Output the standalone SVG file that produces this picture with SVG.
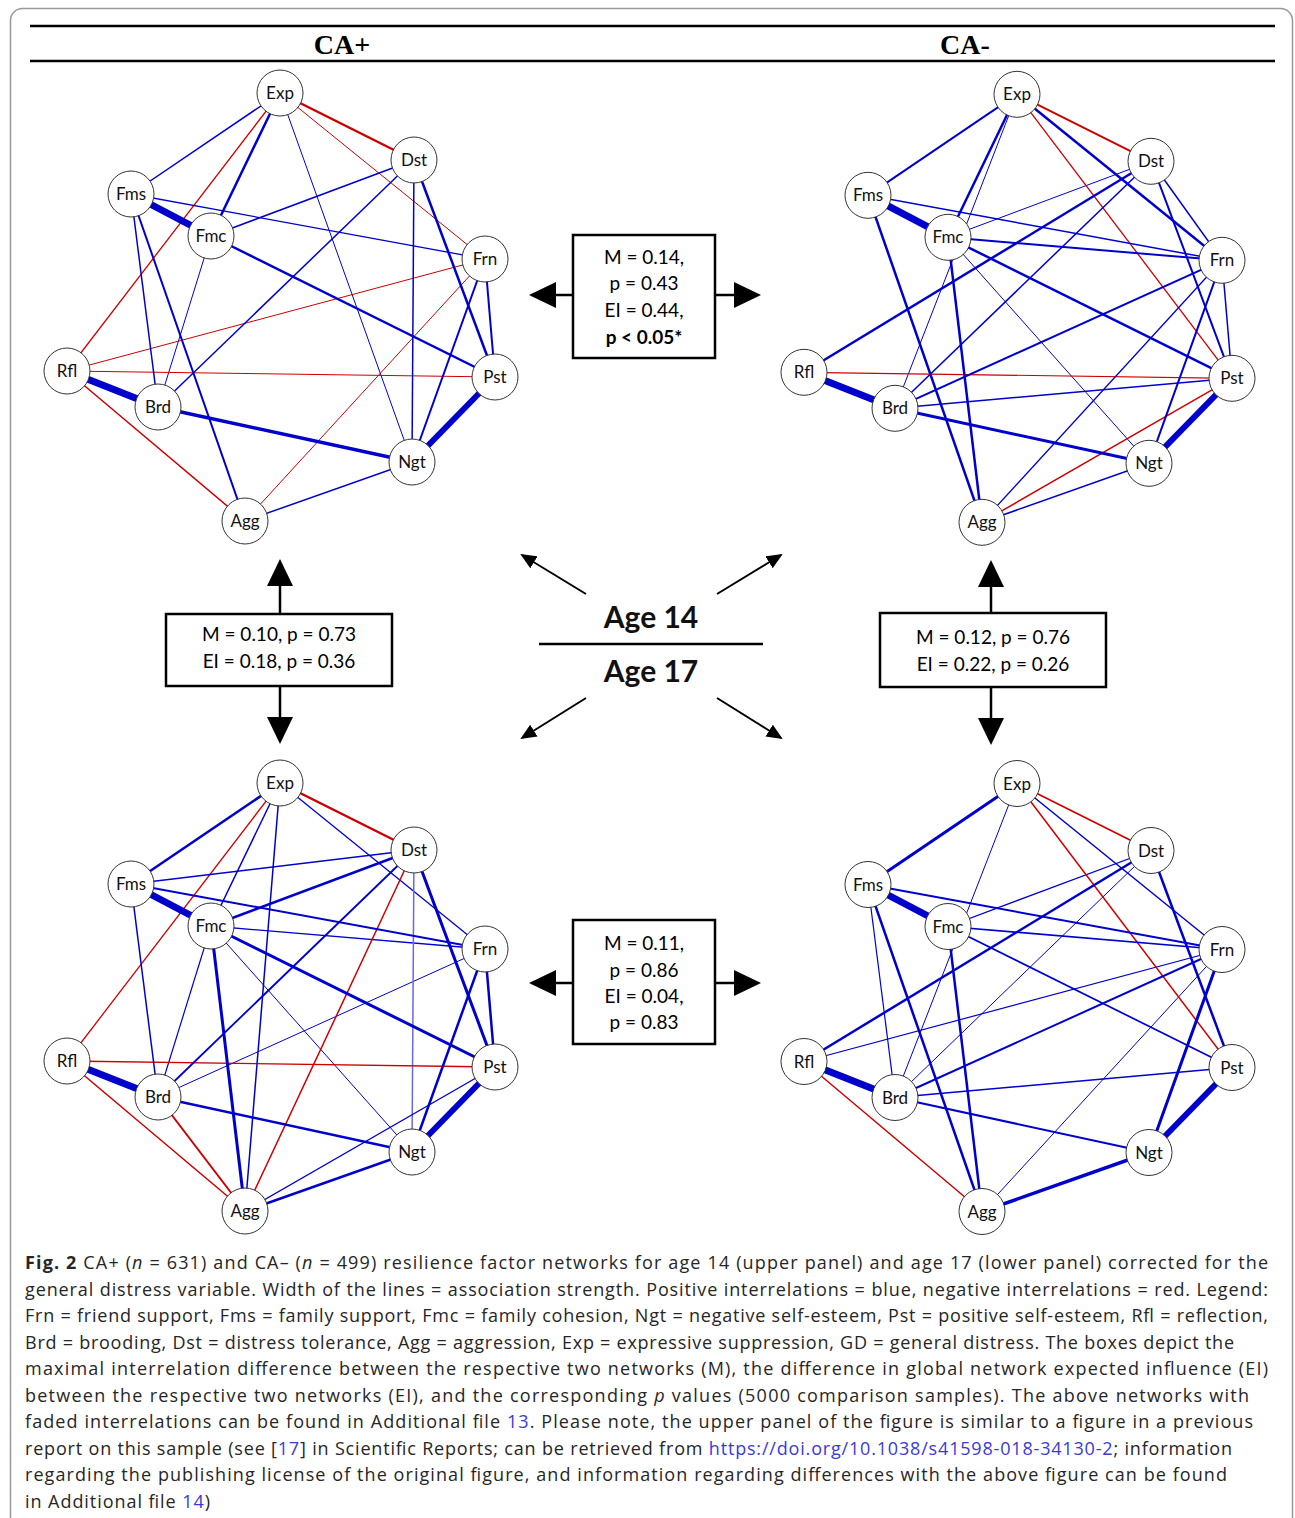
<svg xmlns="http://www.w3.org/2000/svg" width="1295" height="1518" viewBox="0 0 1295 1518">
<defs>
<marker id="big" viewBox="0 0 28 28" refX="1" refY="14" markerWidth="28" markerHeight="28" markerUnits="userSpaceOnUse" orient="auto"><path d="M0,1 L27,14 L0,27 Z" fill="#000"/></marker>
<marker id="small" viewBox="0 0 16 14" refX="14" refY="7" markerWidth="16" markerHeight="14" markerUnits="userSpaceOnUse" orient="auto"><path d="M0,0 L16,7 L0,14 Z" fill="#000"/></marker>
</defs>
<style>
.b{stroke:#0000cc;fill:none}
.r{stroke:#cc0000;fill:none}
.lb{stroke:#6a6ae0;fill:none}
.node circle{fill:#fff;stroke:#333;stroke-width:1}
.node text{font-family:Lato,"Liberation Sans",sans-serif;font-size:17px;fill:#111;text-anchor:middle}
.box{fill:#fff;stroke:#000;stroke-width:2.5}
.bt{font-family:Lato,"Liberation Sans",sans-serif;font-size:19px;fill:#000;text-anchor:middle}
.arr{stroke:#000;stroke-width:2.5;marker-end:url(#big)}
.darr{stroke:#000;stroke-width:2;marker-end:url(#small)}
.cap{font-family:"Open Sans","Liberation Sans",sans-serif;font-size:18px;fill:#262626}
.lnk{fill:#3a3ad6}
.hd{font-family:"Liberation Serif",serif;font-weight:bold;font-size:28px;text-anchor:middle;fill:#000}
.age{font-family:Lato,"Liberation Sans",sans-serif;font-weight:bold;font-size:30px;text-anchor:middle;fill:#111}
</style>
<rect x="0" y="0" width="1295" height="1518" fill="#fff"/>
<rect x="10.5" y="8.5" width="1282" height="1540" rx="12" fill="none" stroke="#999" stroke-width="1.5"/>
<line x1="30" y1="26" x2="1275" y2="26" stroke="#000" stroke-width="2.5"/>
<line x1="30" y1="61" x2="1275" y2="61" stroke="#000" stroke-width="2.5"/>
<text class="hd" x="342" y="54">CA+</text>
<text class="hd" x="965" y="54">CA-</text>

<!-- Panel 1: CA+ age 14 -->
<g id="panel1">
<g id="p1-edges">
<line class="r" stroke-width="1" x1="280" y1="93" x2="485" y2="259"/>
<line class="r" stroke-width="1.3" x1="280" y1="93" x2="67" y2="371"/>
<line class="b" stroke-width="1" x1="280" y1="93" x2="412" y2="462"/>
<line class="b" stroke-width="1.3" x1="131" y1="194" x2="485" y2="259"/>
<line class="b" stroke-width="1" x1="211" y1="236" x2="158" y2="407"/>
<line class="r" stroke-width="1" x1="485" y1="259" x2="67" y2="371"/>
<line class="r" stroke-width="1" x1="485" y1="259" x2="245" y2="521"/>
<line class="r" stroke-width="1" x1="67" y1="371" x2="495" y2="377"/>
<line class="b" stroke-width="1.5" x1="280" y1="93" x2="131" y2="194"/>
<line class="b" stroke-width="1.5" x1="131" y1="194" x2="158" y2="407"/>
<line class="b" stroke-width="1.5" x1="211" y1="236" x2="414" y2="160"/>
<line class="b" stroke-width="1.5" x1="414" y1="160" x2="158" y2="407"/>
<line class="b" stroke-width="1.5" x1="414" y1="160" x2="412" y2="462"/>
<line class="r" stroke-width="1.5" x1="67" y1="371" x2="245" y2="521"/>
<line class="b" stroke-width="1.5" x1="412" y1="462" x2="245" y2="521"/>
<line class="b" stroke-width="2" x1="131" y1="194" x2="245" y2="521"/>
<line class="b" stroke-width="2" x1="485" y1="259" x2="495" y2="377"/>
<line class="b" stroke-width="2" x1="485" y1="259" x2="412" y2="462"/>
<line class="r" stroke-width="2.5" x1="280" y1="93" x2="414" y2="160"/>
<line class="b" stroke-width="2.5" x1="280" y1="93" x2="211" y2="236"/>
<line class="b" stroke-width="2.5" x1="211" y1="236" x2="495" y2="377"/>
<line class="b" stroke-width="2.5" x1="414" y1="160" x2="495" y2="377"/>
<line class="b" stroke-width="3.5" x1="158" y1="407" x2="412" y2="462"/>
<line class="b" stroke-width="6" x1="495" y1="377" x2="412" y2="462"/>
<line class="b" stroke-width="7" x1="131" y1="194" x2="211" y2="236"/>
<line class="b" stroke-width="7" x1="67" y1="371" x2="158" y2="407"/>
</g>
<g id="p1-Exp" class="node"><circle cx="280" cy="93" r="23"/><text x="280" y="99">Exp</text></g>
<g id="p1-Dst" class="node"><circle cx="414" cy="160" r="23"/><text x="414" y="166">Dst</text></g>
<g id="p1-Fms" class="node"><circle cx="131" cy="194" r="23"/><text x="131" y="200">Fms</text></g>
<g id="p1-Fmc" class="node"><circle cx="211" cy="236" r="23"/><text x="211" y="242">Fmc</text></g>
<g id="p1-Frn" class="node"><circle cx="485" cy="259" r="23"/><text x="485" y="265">Frn</text></g>
<g id="p1-Rfl" class="node"><circle cx="67" cy="371" r="23"/><text x="67" y="377">Rfl</text></g>
<g id="p1-Pst" class="node"><circle cx="495" cy="377" r="23"/><text x="495" y="383">Pst</text></g>
<g id="p1-Brd" class="node"><circle cx="158" cy="407" r="23"/><text x="158" y="413">Brd</text></g>
<g id="p1-Ngt" class="node"><circle cx="412" cy="462" r="23"/><text x="412" y="468">Ngt</text></g>
<g id="p1-Agg" class="node"><circle cx="245" cy="521" r="23"/><text x="245" y="527">Agg</text></g>
</g>

<!-- Panel 2: CA- age 14 -->
<g id="panel2" transform="translate(737,1.3)">
<g id="p2-edges">
<line class="b" stroke-width="1" x1="280" y1="93" x2="158" y2="407"/>
<line class="b" stroke-width="1" x1="211" y1="236" x2="414" y2="160"/>
<line class="b" stroke-width="1" x1="211" y1="236" x2="412" y2="462"/>
<line class="r" stroke-width="1.2" x1="67" y1="371" x2="495" y2="377"/>
<line class="r" stroke-width="1.3" x1="280" y1="93" x2="495" y2="377"/>
<line class="b" stroke-width="1.3" x1="485" y1="259" x2="245" y2="521"/>
<line class="b" stroke-width="1.5" x1="131" y1="194" x2="485" y2="259"/>
<line class="b" stroke-width="1.5" x1="414" y1="160" x2="158" y2="407"/>
<line class="b" stroke-width="1.5" x1="414" y1="160" x2="485" y2="259"/>
<line class="b" stroke-width="1.5" x1="485" y1="259" x2="495" y2="377"/>
<line class="b" stroke-width="1.5" x1="158" y1="407" x2="495" y2="377"/>
<line class="r" stroke-width="1.5" x1="495" y1="377" x2="245" y2="521"/>
<line class="b" stroke-width="1.5" x1="412" y1="462" x2="245" y2="521"/>
<line class="r" stroke-width="2" x1="280" y1="93" x2="414" y2="160"/>
<line class="b" stroke-width="2" x1="280" y1="93" x2="131" y2="194"/>
<line class="b" stroke-width="2" x1="211" y1="236" x2="485" y2="259"/>
<line class="b" stroke-width="2" x1="414" y1="160" x2="495" y2="377"/>
<line class="b" stroke-width="2" x1="485" y1="259" x2="158" y2="407"/>
<line class="b" stroke-width="2" x1="485" y1="259" x2="412" y2="462"/>
<line class="b" stroke-width="2.5" x1="280" y1="93" x2="485" y2="259"/>
<line class="b" stroke-width="2.5" x1="280" y1="93" x2="211" y2="236"/>
<line class="b" stroke-width="2.5" x1="131" y1="194" x2="245" y2="521"/>
<line class="b" stroke-width="2.5" x1="211" y1="236" x2="495" y2="377"/>
<line class="b" stroke-width="2.5" x1="211" y1="236" x2="245" y2="521"/>
<line class="b" stroke-width="2.5" x1="414" y1="160" x2="67" y2="371"/>
<line class="b" stroke-width="3" x1="158" y1="407" x2="412" y2="462"/>
<line class="b" stroke-width="6" x1="495" y1="377" x2="412" y2="462"/>
<line class="b" stroke-width="7" x1="131" y1="194" x2="211" y2="236"/>
<line class="b" stroke-width="7" x1="67" y1="371" x2="158" y2="407"/>
</g>
<g id="p2-Exp" class="node"><circle cx="280" cy="93" r="23"/><text x="280" y="99">Exp</text></g>
<g id="p2-Dst" class="node"><circle cx="414" cy="160" r="23"/><text x="414" y="166">Dst</text></g>
<g id="p2-Fms" class="node"><circle cx="131" cy="194" r="23"/><text x="131" y="200">Fms</text></g>
<g id="p2-Fmc" class="node"><circle cx="211" cy="236" r="23"/><text x="211" y="242">Fmc</text></g>
<g id="p2-Frn" class="node"><circle cx="485" cy="259" r="23"/><text x="485" y="265">Frn</text></g>
<g id="p2-Rfl" class="node"><circle cx="67" cy="371" r="23"/><text x="67" y="377">Rfl</text></g>
<g id="p2-Pst" class="node"><circle cx="495" cy="377" r="23"/><text x="495" y="383">Pst</text></g>
<g id="p2-Brd" class="node"><circle cx="158" cy="407" r="23"/><text x="158" y="413">Brd</text></g>
<g id="p2-Ngt" class="node"><circle cx="412" cy="462" r="23"/><text x="412" y="468">Ngt</text></g>
<g id="p2-Agg" class="node"><circle cx="245" cy="521" r="23"/><text x="245" y="527">Agg</text></g>
</g>

<!-- Panel 3: CA+ age 17 -->
<g id="panel3" transform="translate(0,690)">
<g id="p3-edges">
<line class="b" stroke-width="1" x1="211" y1="236" x2="412" y2="462"/>
<line class="b" stroke-width="1" x1="485" y1="259" x2="158" y2="407"/>
<line class="b" stroke-width="1.2" x1="211" y1="236" x2="158" y2="407"/>
<line class="b" stroke-width="1.3" x1="280" y1="93" x2="485" y2="259"/>
<line class="r" stroke-width="1.3" x1="280" y1="93" x2="67" y2="371"/>
<line class="b" stroke-width="1.3" x1="131" y1="194" x2="414" y2="160"/>
<line class="b" stroke-width="1.3" x1="211" y1="236" x2="485" y2="259"/>
<line class="lb" stroke-width="1.5" x1="414" y1="160" x2="412" y2="462"/>
<line class="r" stroke-width="1.3" x1="67" y1="371" x2="495" y2="377"/>
<line class="b" stroke-width="1.3" x1="495" y1="377" x2="245" y2="521"/>
<line class="b" stroke-width="1.5" x1="280" y1="93" x2="211" y2="236"/>
<line class="b" stroke-width="1.5" x1="280" y1="93" x2="245" y2="521"/>
<line class="b" stroke-width="1.5" x1="131" y1="194" x2="158" y2="407"/>
<line class="r" stroke-width="1.5" x1="414" y1="160" x2="245" y2="521"/>
<line class="r" stroke-width="1.5" x1="67" y1="371" x2="245" y2="521"/>
<line class="b" stroke-width="1.8" x1="414" y1="160" x2="158" y2="407"/>
<line class="b" stroke-width="2" x1="131" y1="194" x2="485" y2="259"/>
<line class="r" stroke-width="2" x1="158" y1="407" x2="245" y2="521"/>
<line class="r" stroke-width="2.5" x1="280" y1="93" x2="414" y2="160"/>
<line class="b" stroke-width="2.5" x1="280" y1="93" x2="131" y2="194"/>
<line class="b" stroke-width="2.5" x1="211" y1="236" x2="414" y2="160"/>
<line class="b" stroke-width="2.5" x1="485" y1="259" x2="495" y2="377"/>
<line class="b" stroke-width="2.5" x1="485" y1="259" x2="412" y2="462"/>
<line class="b" stroke-width="2.5" x1="158" y1="407" x2="412" y2="462"/>
<line class="b" stroke-width="2.5" x1="412" y1="462" x2="245" y2="521"/>
<line class="b" stroke-width="3" x1="211" y1="236" x2="495" y2="377"/>
<line class="b" stroke-width="3" x1="211" y1="236" x2="245" y2="521"/>
<line class="b" stroke-width="3" x1="414" y1="160" x2="495" y2="377"/>
<line class="b" stroke-width="6" x1="495" y1="377" x2="412" y2="462"/>
<line class="b" stroke-width="7" x1="131" y1="194" x2="211" y2="236"/>
<line class="b" stroke-width="7" x1="67" y1="371" x2="158" y2="407"/>
</g>
<g id="p3-Exp" class="node"><circle cx="280" cy="93" r="23"/><text x="280" y="99">Exp</text></g>
<g id="p3-Dst" class="node"><circle cx="414" cy="160" r="23"/><text x="414" y="166">Dst</text></g>
<g id="p3-Fms" class="node"><circle cx="131" cy="194" r="23"/><text x="131" y="200">Fms</text></g>
<g id="p3-Fmc" class="node"><circle cx="211" cy="236" r="23"/><text x="211" y="242">Fmc</text></g>
<g id="p3-Frn" class="node"><circle cx="485" cy="259" r="23"/><text x="485" y="265">Frn</text></g>
<g id="p3-Rfl" class="node"><circle cx="67" cy="371" r="23"/><text x="67" y="377">Rfl</text></g>
<g id="p3-Pst" class="node"><circle cx="495" cy="377" r="23"/><text x="495" y="383">Pst</text></g>
<g id="p3-Brd" class="node"><circle cx="158" cy="407" r="23"/><text x="158" y="413">Brd</text></g>
<g id="p3-Ngt" class="node"><circle cx="412" cy="462" r="23"/><text x="412" y="468">Ngt</text></g>
<g id="p3-Agg" class="node"><circle cx="245" cy="521" r="23"/><text x="245" y="527">Agg</text></g>
</g>

<!-- Panel 4: CA- age 17 -->
<g id="panel4" transform="translate(737,690.5)">
<g id="p4-edges">
<line class="b" stroke-width="1" x1="280" y1="93" x2="158" y2="407"/>
<line class="b" stroke-width="1" x1="414" y1="160" x2="158" y2="407"/>
<line class="b" stroke-width="1" x1="485" y1="259" x2="245" y2="521"/>
<line class="b" stroke-width="1.2" x1="131" y1="194" x2="158" y2="407"/>
<line class="b" stroke-width="1.2" x1="485" y1="259" x2="67" y2="371"/>
<line class="b" stroke-width="1.3" x1="211" y1="236" x2="414" y2="160"/>
<line class="r" stroke-width="1.5" x1="280" y1="93" x2="495" y2="377"/>
<line class="b" stroke-width="1.5" x1="280" y1="93" x2="485" y2="259"/>
<line class="b" stroke-width="1.5" x1="158" y1="407" x2="495" y2="377"/>
<line class="r" stroke-width="1.5" x1="67" y1="371" x2="245" y2="521"/>
<line class="b" stroke-width="1.7" x1="211" y1="236" x2="485" y2="259"/>
<line class="b" stroke-width="1.7" x1="211" y1="236" x2="495" y2="377"/>
<line class="r" stroke-width="1.8" x1="280" y1="93" x2="414" y2="160"/>
<line class="b" stroke-width="2" x1="131" y1="194" x2="485" y2="259"/>
<line class="b" stroke-width="2" x1="485" y1="259" x2="158" y2="407"/>
<line class="b" stroke-width="2" x1="158" y1="407" x2="412" y2="462"/>
<line class="b" stroke-width="2.5" x1="131" y1="194" x2="245" y2="521"/>
<line class="b" stroke-width="2.5" x1="211" y1="236" x2="245" y2="521"/>
<line class="b" stroke-width="2.5" x1="414" y1="160" x2="67" y2="371"/>
<line class="b" stroke-width="2.5" x1="414" y1="160" x2="495" y2="377"/>
<line class="b" stroke-width="3" x1="280" y1="93" x2="131" y2="194"/>
<line class="b" stroke-width="3" x1="485" y1="259" x2="412" y2="462"/>
<line class="b" stroke-width="3.5" x1="412" y1="462" x2="245" y2="521"/>
<line class="b" stroke-width="6" x1="495" y1="377" x2="412" y2="462"/>
<line class="b" stroke-width="7" x1="131" y1="194" x2="211" y2="236"/>
<line class="b" stroke-width="7" x1="67" y1="371" x2="158" y2="407"/>
</g>
<g id="p4-Exp" class="node"><circle cx="280" cy="93" r="23"/><text x="280" y="99">Exp</text></g>
<g id="p4-Dst" class="node"><circle cx="414" cy="160" r="23"/><text x="414" y="166">Dst</text></g>
<g id="p4-Fms" class="node"><circle cx="131" cy="194" r="23"/><text x="131" y="200">Fms</text></g>
<g id="p4-Fmc" class="node"><circle cx="211" cy="236" r="23"/><text x="211" y="242">Fmc</text></g>
<g id="p4-Frn" class="node"><circle cx="485" cy="259" r="23"/><text x="485" y="265">Frn</text></g>
<g id="p4-Rfl" class="node"><circle cx="67" cy="371" r="23"/><text x="67" y="377">Rfl</text></g>
<g id="p4-Pst" class="node"><circle cx="495" cy="377" r="23"/><text x="495" y="383">Pst</text></g>
<g id="p4-Brd" class="node"><circle cx="158" cy="407" r="23"/><text x="158" y="413">Brd</text></g>
<g id="p4-Ngt" class="node"><circle cx="412" cy="462" r="23"/><text x="412" y="468">Ngt</text></g>
<g id="p4-Agg" class="node"><circle cx="245" cy="521" r="23"/><text x="245" y="527">Agg</text></g>
</g>

<!-- comparison arrows -->
<g id="arrows">
<line class="arr" x1="573" y1="295" x2="555" y2="295"/>
<line class="arr" x1="715" y1="295" x2="735" y2="295"/>
<line class="arr" x1="573" y1="983" x2="555" y2="983"/>
<line class="arr" x1="715" y1="983" x2="735" y2="983"/>
<line class="arr" x1="280" y1="614" x2="280" y2="585"/>
<line class="arr" x1="280" y1="686" x2="280" y2="718"/>
<line class="arr" x1="991" y1="613" x2="991" y2="586"/>
<line class="arr" x1="991" y1="687" x2="991" y2="719"/>
<line class="darr" x1="586" y1="594" x2="522" y2="555"/>
<line class="darr" x1="717" y1="594" x2="781" y2="555"/>
<line class="darr" x1="586" y1="698" x2="522" y2="738"/>
<line class="darr" x1="717" y1="698" x2="781" y2="738"/>
</g>

<!-- boxes -->
<g id="box-top">
<rect class="box" x="573" y="235" width="142" height="123"/>
<text class="bt" x="644" y="264">M = 0.14,</text>
<text class="bt" x="644" y="290">p = 0.43</text>
<text class="bt" x="644" y="317">EI = 0.44,</text>
<text class="bt" x="644" y="344" font-weight="bold">p &lt; 0.05*</text>
</g>
<g id="box-left">
<rect class="box" x="166" y="614" width="226" height="72"/>
<text class="bt" x="279" y="641">M = 0.10, p = 0.73</text>
<text class="bt" x="279" y="668">EI = 0.18, p = 0.36</text>
</g>
<g id="box-right">
<rect class="box" x="880" y="613" width="226" height="74"/>
<text class="bt" x="993" y="644">M = 0.12, p = 0.76</text>
<text class="bt" x="993" y="671">EI = 0.22, p = 0.26</text>
</g>
<g id="box-bottom">
<rect class="box" x="573" y="920" width="142" height="124"/>
<text class="bt" x="644" y="950">M = 0.11,</text>
<text class="bt" x="644" y="977">p = 0.86</text>
<text class="bt" x="644" y="1003">EI = 0.04,</text>
<text class="bt" x="644" y="1029">p = 0.83</text>
</g>

<g id="center">
<text class="age" x="651" y="628">Age 14</text>
<line x1="539" y1="644" x2="763" y2="644" stroke="#000" stroke-width="2.5"/>
<text class="age" x="651" y="682">Age 17</text>
</g>

<!-- caption -->
<g id="caption" class="cap">
<text x="25" y="1269" textLength="1243" lengthAdjust="spacing"><tspan font-weight="bold">Fig. 2</tspan> CA+ (<tspan font-style="italic">n</tspan> = 631) and CA– (<tspan font-style="italic">n</tspan> = 499) resilience factor networks for age 14 (upper panel) and age 17 (lower panel) corrected for the</text>
<text x="25" y="1296" textLength="1243" lengthAdjust="spacing">general distress variable. Width of the lines = association strength. Positive interrelations = blue, negative interrelations = red. Legend:</text>
<text x="25" y="1322" textLength="1243" lengthAdjust="spacing">Frn = friend support, Fms = family support, Fmc = family cohesion, Ngt = negative self-esteem, Pst = positive self-esteem, Rfl = reflection,</text>
<text x="25" y="1349" textLength="1209" lengthAdjust="spacing">Brd = brooding, Dst = distress tolerance, Agg = aggression, Exp = expressive suppression, GD = general distress. The boxes depict the</text>
<text x="25" y="1375" textLength="1243" lengthAdjust="spacing">maximal interrelation difference between the respective two networks (M), the difference in global network expected influence (EI)</text>
<text x="25" y="1402" textLength="1224" lengthAdjust="spacing">between the respective two networks (EI), and the corresponding <tspan font-style="italic">p</tspan> values (5000 comparison samples). The above networks with</text>
<text x="25" y="1428" textLength="1228" lengthAdjust="spacing">faded interrelations can be found in Additional file <tspan class="lnk">13</tspan>. Please note, the upper panel of the figure is similar to a figure in a previous</text>
<text x="25" y="1455" textLength="1207" lengthAdjust="spacing">report on this sample (see [<tspan class="lnk">17</tspan>] in Scientific Reports; can be retrieved from <tspan class="lnk">https://doi.org/10.1038/s41598-018-34130-2</tspan>; information</text>
<text x="25" y="1481" textLength="1202" lengthAdjust="spacing">regarding the publishing license of the original figure, and information regarding differences with the above figure can be found</text>
<text x="25" y="1508" textLength="185" lengthAdjust="spacing">in Additional file <tspan class="lnk">14</tspan>)</text>
</g>
</svg>
